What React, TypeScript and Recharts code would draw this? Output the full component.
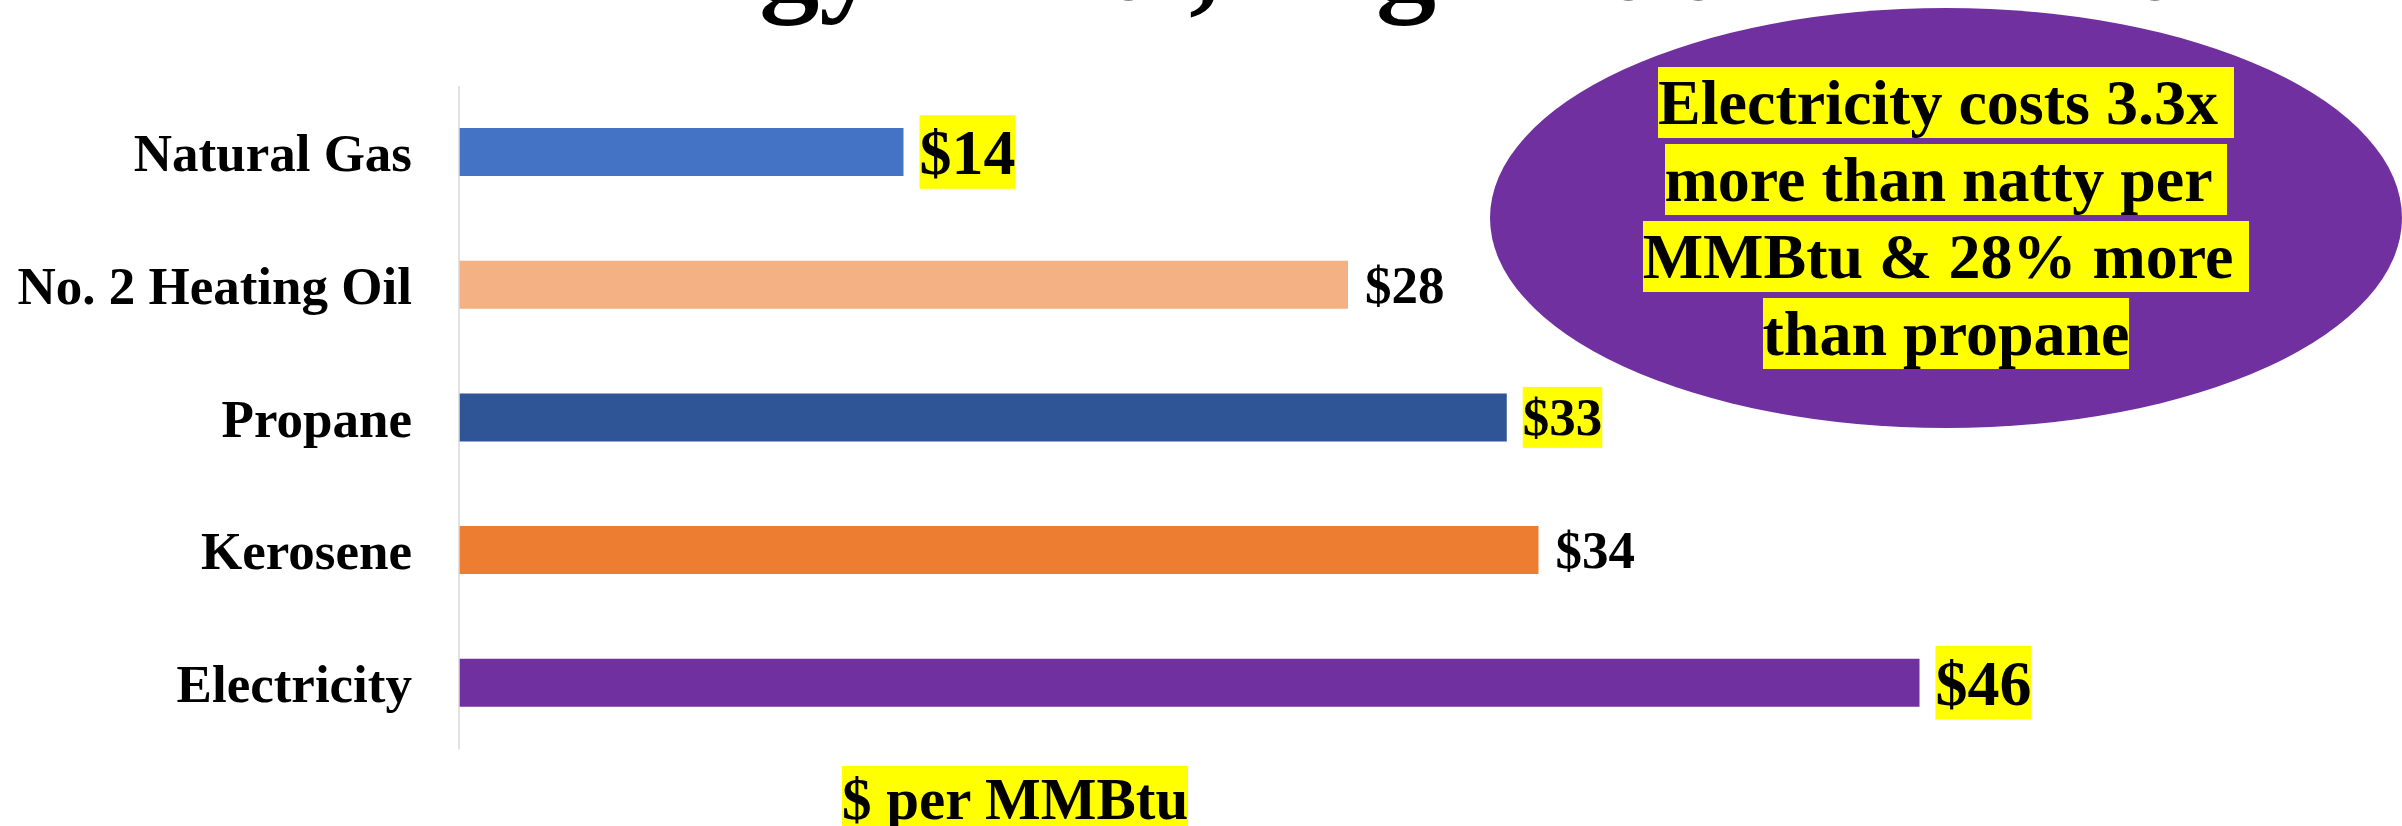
import React from 'react';
import { BarChart, Bar, XAxis, YAxis, Cell, LabelList } from 'recharts';

const categories = ['Natural Gas', 'No. 2 Heating Oil', 'Propane', 'Kerosene', 'Electricity'];
const costs = [14, 28, 33, 34, 46];
const barColors = ['#4472C4', '#F4B183', '#2F5597', '#ED7D31', '#7030A0'];
// labels with a yellow background, and the ones drawn in the bigger font
const highlighted = ['Natural Gas', 'Propane', 'Electricity'];
const bigLabels = ['Natural Gas', 'Electricity'];
const calloutLines = ['Electricity costs 3.3x ', 'more than natty per ', 'MMBtu & 28% more ', 'than propane'];
const titleText = 'Energy Costs, Highest to Lowest';
const axisTitle = '$ per MMBtu';

const serif = '"Liberation Serif", "Times New Roman", serif';

const data = categories.map((name, i) => ({ name, value: costs[i] }));

const ValueLabel = (props: any) => {
    const { x, y, width, height, value, index } = props;
    const name = categories[index];
    const hl = highlighted.includes(name);
    const fontSize = bigLabels.includes(name) ? 64 : 53;
    const text = `$${value}`;
    const textW = text.length * fontSize * 0.5;
    const boxH = fontSize * 1.15;
    const cy = y + height / 2;
    const tx = x + width + (hl ? 16 : 17);
    return (
        <g>
            {hl && <rect x={tx} y={cy - boxH / 2} width={textW} height={boxH} fill="#FFFF00" />}
            <text x={tx} y={cy + fontSize * 0.34} fontSize={fontSize} fontWeight="bold" fontFamily={serif} fill="#000">
                {text}
            </text>
        </g>
    );
};

const App: React.FC = () => {
    return (
        <div style={{ position: 'absolute', left: 0, top: 0, width: 2402, height: 826, overflow: 'hidden', background: '#fff' }}>
            <BarChart
                layout="vertical"
                width={2402}
                height={826}
                data={data}
                margin={{ top: 86, right: 355.5, bottom: 76.5, left: 0 }}
            >
                <XAxis type="number" domain={[0, 50]} hide />
                <YAxis
                    type="category"
                    dataKey="name"
                    width={459}
                    interval={0}
                    tickLine={false}
                    tickSize={0}
                    tickMargin={47}
                    axisLine={{ stroke: '#D9D9D9', strokeWidth: 1.5 }}
                    tick={{ fontFamily: serif, fontWeight: 'bold', fontSize: 53, fill: '#000' }}
                />
                <Bar dataKey="value" barSize={48} isAnimationActive={false}>
                    {data.map((d, i) => (
                        <Cell key={d.name} fill={barColors[i]} />
                    ))}
                    <LabelList dataKey="value" content={<ValueLabel />} />
                </Bar>
            </BarChart>

            {/* slide title, almost entirely above the crop */}
            <svg style={{ position: 'absolute', left: 0, top: 0 }} width={2402} height={60}>
                <text x={506} y={-1} fontSize={120} fontWeight="bold" fontFamily={serif} fill="#000">
                    {titleText}
                </text>
            </svg>

            <div
                style={{
                    position: 'absolute',
                    left: 1490,
                    top: 8,
                    width: 912,
                    height: 420,
                    borderRadius: '50%',
                    background: '#7030A0',
                    display: 'flex',
                    alignItems: 'center',
                    justifyContent: 'center',
                }}
            >
                <div
                    style={{
                        fontFamily: serif,
                        fontWeight: 'bold',
                        fontSize: 64,
                        lineHeight: '77px',
                        textAlign: 'center',
                        whiteSpace: 'pre',
                        color: '#000',
                    }}
                >
                    {calloutLines.map((line, i) => (
                        <React.Fragment key={i}>
                            <span style={{ background: '#FFFF00' }}>{line}</span>
                            {i < calloutLines.length - 1 && <br />}
                        </React.Fragment>
                    ))}
                </div>
            </div>

            <div
                style={{
                    position: 'absolute',
                    left: 842,
                    top: 765,
                    fontFamily: serif,
                    fontWeight: 'bold',
                    fontSize: 59,
                    whiteSpace: 'pre',
                    color: '#000',
                }}
            >
                <span style={{ background: '#FFFF00' }}>{axisTitle}</span>
            </div>
        </div>
    );
};

export default App;
